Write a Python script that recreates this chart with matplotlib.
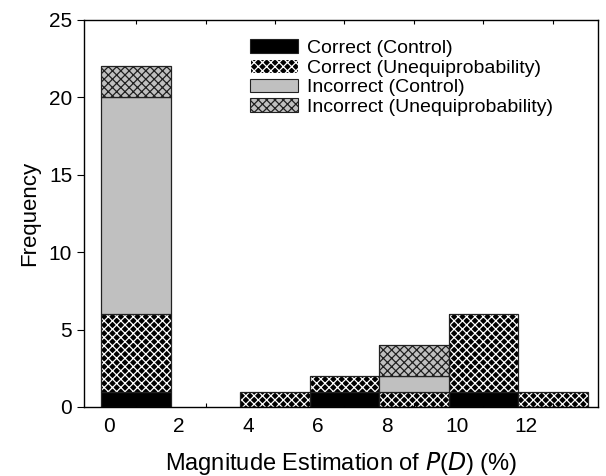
import matplotlib
matplotlib.use("Agg")
import matplotlib.pyplot as plt
import numpy as np
from matplotlib.patches import Patch

plt.rcParams["font.family"] = ["Liberation Sans", "DejaVu Sans"]
plt.rcParams["hatch.linewidth"] = 0.9

# histogram bins (left edges, width 2 %)
bin_left = [0, 2, 4, 6, 8, 10, 12]
bin_width = 2
tick_values = [0, 2, 4, 6, 8, 10, 12]

correct_control = [1, 0, 0, 1, 0, 1, 0]
correct_uneq = [5, 0, 1, 1, 1, 5, 1]
incorrect_control = [14, 0, 0, 0, 1, 0, 0]
incorrect_uneq = [2, 0, 0, 0, 2, 0, 0]

labels = ["Correct (Control)", "Correct (Unequiprobability)",
          "Incorrect (Control)", "Incorrect (Unequiprobability)"]

fig = plt.figure(figsize=(6.06, 4.76), dpi=100)
ax = fig.add_axes([0.1386, 0.145, 0.8482, 0.813])

x = np.array(bin_left)
series = [correct_control, correct_uneq, incorrect_control, incorrect_uneq]
styles = [
    dict(facecolor="black", edgecolor="black", hatch=None),
    dict(facecolor="black", edgecolor="white", hatch="xxxx"),
    dict(facecolor="#c0c0c0", edgecolor="black", hatch=None),
    dict(facecolor="#c0c0c0", edgecolor="#202020", hatch="xxxx"),
]

bottom = np.zeros(len(bin_left))
for vals, st in zip(series, styles):
    v = np.array(vals, dtype=float)
    mask = v > 0
    ax.bar(x[mask], v[mask], width=bin_width, bottom=bottom[mask], align="edge",
           facecolor=st["facecolor"], edgecolor=st["edgecolor"],
           hatch=st["hatch"], linewidth=0)
    ax.bar(x[mask], v[mask], width=bin_width, bottom=bottom[mask], align="edge",
           fill=False, edgecolor="#222222", linewidth=0.9)
    bottom += v

ax.set_xlim(-0.5, 14.3)
ax.set_ylim(0, 25)

# labels sit slightly right of the bin edges, small inward ticks at bin centres
ax.set_xticks([t + 0.23 for t in tick_values])
ax.set_xticklabels([str(t) for t in tick_values])
ax.tick_params(axis="x", which="major", length=0, pad=7, labelsize=15)
ax.set_xticks(x + bin_width / 2, minor=True)
ax.tick_params(axis="x", which="minor", direction="in", length=3,
               top=True, bottom=True, width=0.8)

ax.set_yticks([0, 5, 10, 15, 20, 25])
ax.tick_params(axis="y", which="major", direction="out", length=5,
               labelsize=15, width=0.8)

for sp in ax.spines.values():
    sp.set_linewidth(1.0)

ax.set_xlabel("Magnitude Estimation of $\\mathit{P}$($\\mathit{D}$) (%)",
              fontsize=17, labelpad=10)
ax.set_ylabel("Frequency", fontsize=16, labelpad=6)

handles = []
for lab, st in zip(labels, styles):
    handles.append(Patch(facecolor=st["facecolor"],
                         edgecolor=st["edgecolor"] if st["hatch"] else "#222222",
                         hatch=st["hatch"], linewidth=0.8, label=lab))
ax.legend(handles=handles, loc="upper left", bbox_to_anchor=(0.305, 0.975),
          frameon=False, fontsize=14, handlelength=2.45, handleheight=0.7,
          handletextpad=0.45, labelspacing=0.1, borderpad=0)

fig.savefig("out.png", dpi=100)
